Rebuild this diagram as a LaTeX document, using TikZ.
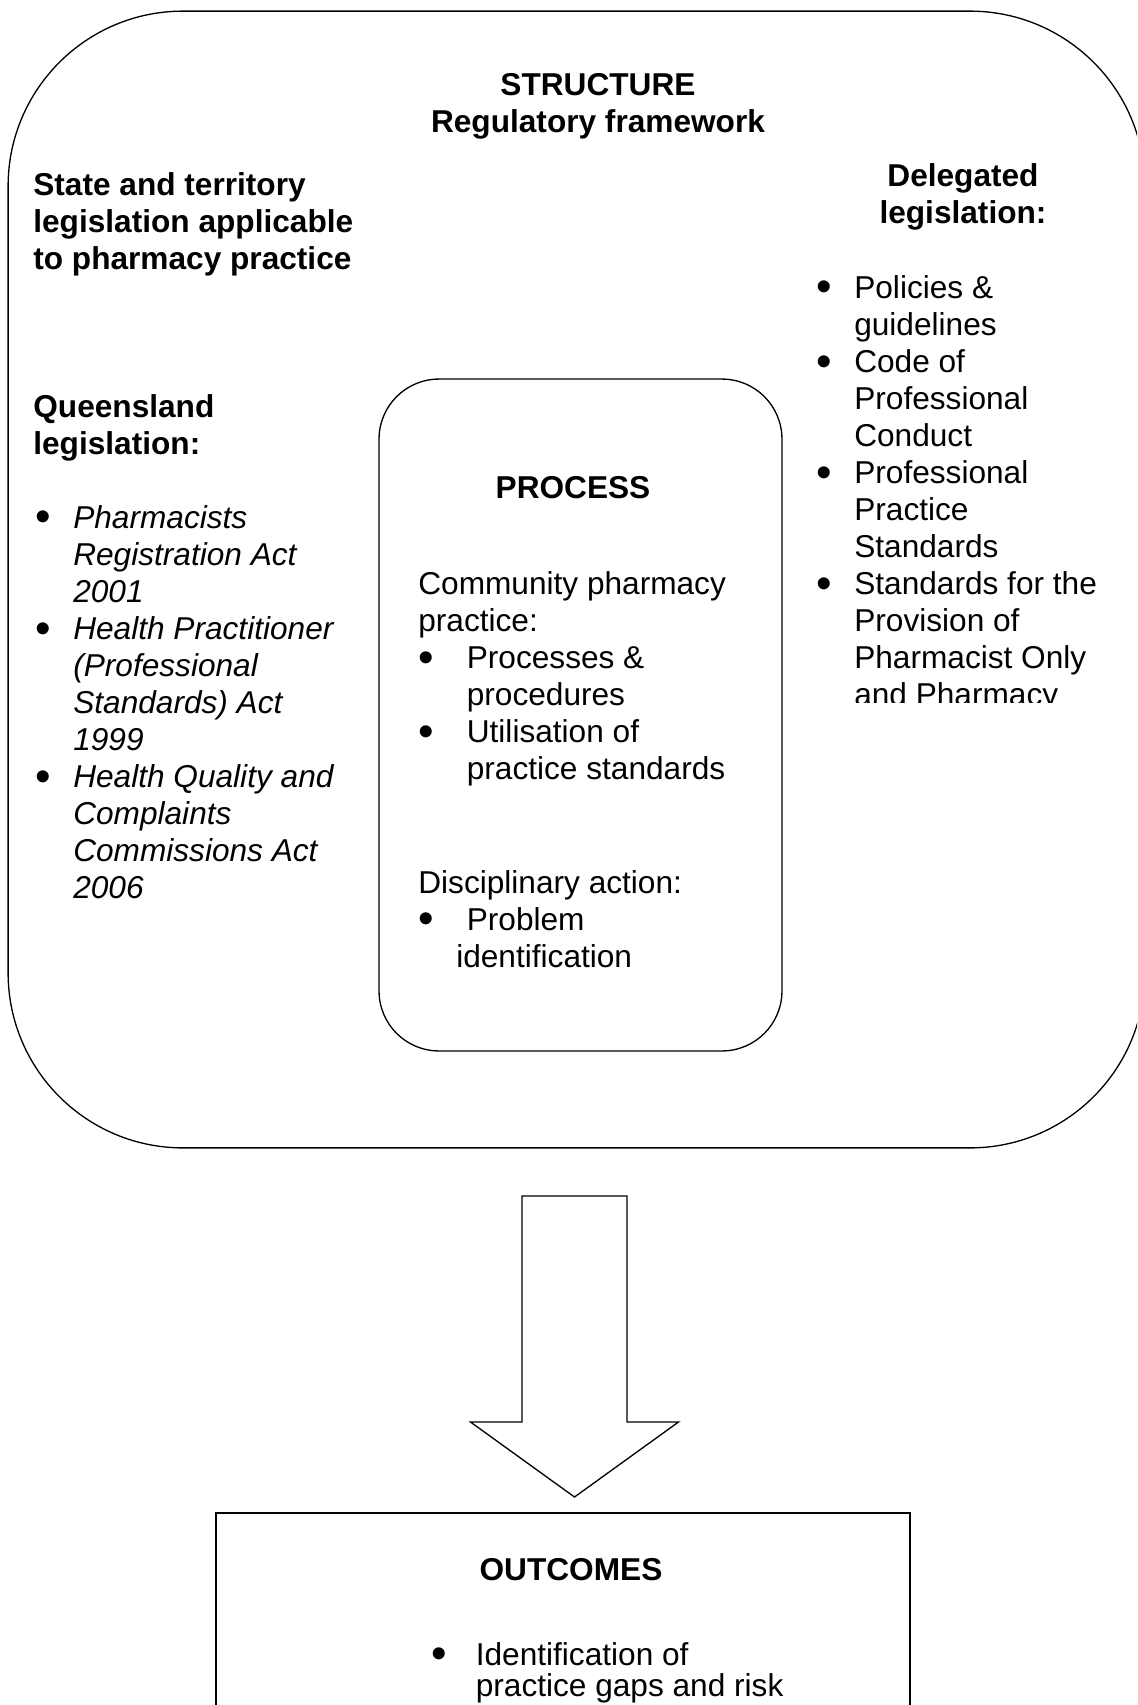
\documentclass[tikz,border=0pt]{standalone}
\usepackage{fontspec}
\setmainfont{Liberation Sans}
\usetikzlibrary{positioning,calc}
\newcommand{\bodysize}{\fontsize{18}{21.1}\selectfont}
\newcommand{\bul}{\upshape\raisebox{-2.2pt}{\scalebox{1.4}{\textbullet}}}
\tikzset{
  bigbox/.style={draw,line width=0.75pt,rounded corners=3.5cm,minimum width=22.74cm,minimum height=22.74cm},
  procbox/.style={draw,line width=0.75pt,rounded corners=1.2cm,minimum width=8.06cm,minimum height=13.44cm},
  outbox/.style={draw,line width=1.15pt,minimum width=13.88cm,minimum height=5cm,anchor=north},
  head/.style={font=\bodysize\bfseries,inner sep=0pt,anchor=base},
  lhead/.style={font=\bodysize\bfseries,inner sep=0pt,anchor=base west},
  body/.style={font=\bodysize,inner sep=0pt,anchor=base west},
  blockarr/.style={draw,line width=0.75pt,line join=miter}
}

\begin{document}
\begin{tikzpicture}[x=0.02cm,y=-0.02cm]
\useasboundingbox (0,0) rectangle (1137,1705);
\clip (0,0) rectangle (1137,1705);
\fill[white] (0,0) rectangle (1137,1705);

\node[bigbox] (struct) at (576.5,579.5) {};
\node[procbox] (proc) at (580.5,715) {};
\node[outbox] (outc) at (563,1512) {};

\node[head] (stitle) at (598,95) {\begin{tabular}[t]{@{}c@{}}STRUCTURE\\Regulatory framework\end{tabular}};
\node[lhead] (state) at (33,195) {\begin{tabular}[t]{@{}l@{}}State and territory\\legislation applicable\\to pharmacy practice\end{tabular}};
\node[lhead] (qld) at (33,417) {\begin{tabular}[t]{@{}l@{}}Queensland\\legislation:\end{tabular}};
\node[body,font=\bodysize\itshape] (qlist) at (35,528) {\begin{tabular}[t]{@{}p{21.6pt}@{}l@{}}
\bul & Pharmacists\\
 & Registration Act\\
 & 2001\\
\bul & Health Practitioner\\
 & (Professional\\
 & Standards) Act\\
 & 1999\\
\bul & Health Quality and\\
 & Complaints\\
 & Commissions Act\\
 & 2006
\end{tabular}};

\node[head] (deleg) at (963,186) {\begin{tabular}[t]{@{}c@{}}Delegated\\legislation:\end{tabular}};
\begin{scope}
\clip (780,240) rectangle (1137,702);
\node[body] (dlist) at (816,298) {\begin{tabular}[t]{@{}p{21.6pt}@{}l@{}}
\bul & Policies \&\\
 & guidelines\\
\bul & Code of\\
 & Professional\\
 & Conduct\\
\bul & Professional\\
 & Practice\\
 & Standards\\
\bul & Standards for the\\
 & Provision of\\
 & Pharmacist Only\\
 & and Pharmacy
\end{tabular}};
\end{scope}

\node[head] (ptitle) at (573,498) {PROCESS};
\node[body] (comm) at (418,594) {\begin{tabular}[t]{@{}p{27.6pt}@{}l@{}}
\multicolumn{2}{@{}l@{}}{Community pharmacy}\\
\multicolumn{2}{@{}l@{}}{practice:}\\
\bul & Processes \&\\
 & procedures\\
\bul & Utilisation of\\
 & practice standards
\end{tabular}};
\node[body] (disc) at (418,893) {\begin{tabular}[t]{@{}p{27.6pt}@{}l@{}}
\multicolumn{2}{@{}l@{}}{Disciplinary action:}\\
\bul & Problem\\
\multicolumn{2}{@{}l@{}}{\hspace*{21.6pt}identification}
\end{tabular}};

\coordinate (atop) at (574.5,1196);
\draw[blockarr] (atop) ++(-52.5,0) -- ++(105,0) -- ++(0,226) -- ++(51.5,0)
  -- ++(-104,75) -- ++(-104,-75) -- ++(51.5,0) -- cycle;

\node[head] (otitle) at (571,1580) {OUTCOMES};
\node[body] (olist) at (431,1665) {\begin{tabular}[t]{@{}p{25.3pt}@{}l@{}}
\bul & Identification of\\[-2.9pt]
 & practice gaps and risk
\end{tabular}};
\end{tikzpicture}
\end{document}
